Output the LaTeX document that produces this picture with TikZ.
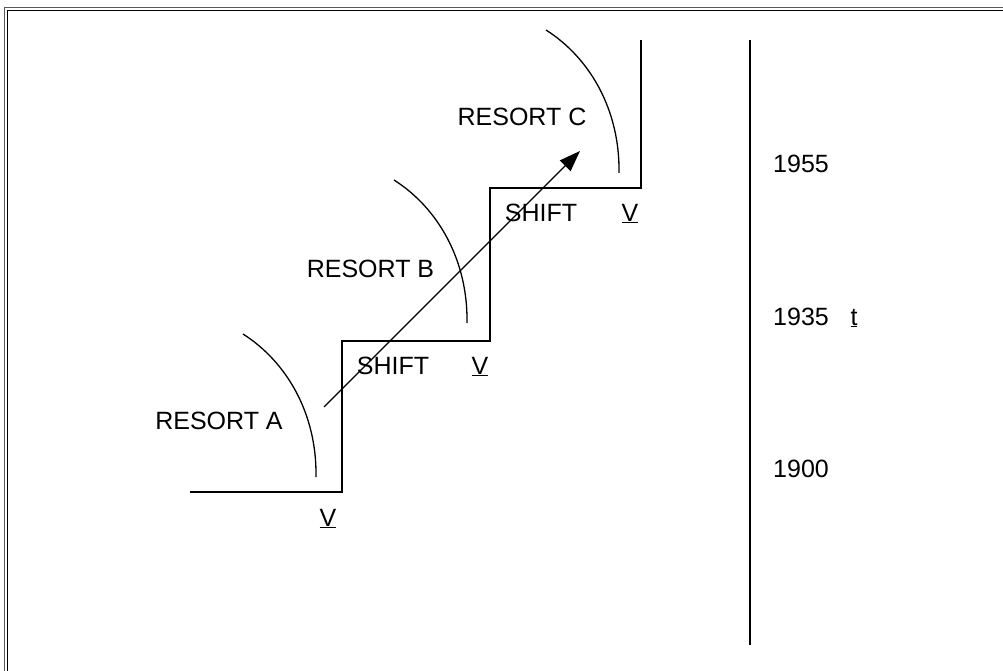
\documentclass[tikz,border=0pt]{standalone}
\usepackage{fontspec}
\setmainfont{Liberation Sans}
\usetikzlibrary{arrows.meta,calc}
\begin{document}
\begin{tikzpicture}[x=1pt,y=-1pt,
  lbl/.style={inner sep=0pt,anchor=base,font=\fontsize{25}{30}\selectfont},
  stair/.style={line width=1.8pt,black},
  resortarc/.style={line width=1.3pt,black},
  trend/.style={line width=1.3pt,black,-{Triangle[length=21pt,width=15pt]}}]
\useasboundingbox (0,0) rectangle (1003,671);
% frame
\draw[line width=1.6pt,black!65] (4.5,700) -- (4.5,7.5) -- (1010,7.5);
\draw[line width=1.2pt,black] (7.7,700) -- (7.7,10.8) -- (1010,10.8);
% staircase
\coordinate (s0) at (190,492);
\coordinate (s1) at (342,492);
\coordinate (s2) at (342,341);
\coordinate (s3) at (490,341);
\coordinate (s4) at (490,188);
\coordinate (s5) at (641,188);
\coordinate (s6) at (641,40);
\draw[stair] (s0) -- (s1) -- (s2) -- (s3) -- (s4) -- (s5) -- (s6);
% resort arcs
\coordinate (a0) at (243,334);
\coordinate (b0) at (394,180);
\coordinate (c0) at (546,30);
\foreach \p in {a0,b0,c0}{
  \draw[resortarc] (\p) .. controls ($(\p)+(44,28)$) and ($(\p)+(74,80)$) .. ($(\p)+(73,143)$);
}
% trend arrow
\coordinate (tail) at (324,407);
\coordinate (tip) at (580,151);
\draw[trend] (tail) -- (tip);
% time axis
\coordinate (t0) at (750,40);
\coordinate (t1) at (750,645);
\draw[line width=1.5pt] (t0) -- (t1);
% labels
\node[lbl] (ra) at (219,429) {RESORT A};
\node[lbl] (rb) at (370.5,277) {RESORT B};
\node[lbl] (rc) at (522,126) {RESORT C};
\node[lbl] (sh1) at (393,374) {SHIFT};
\node[lbl] (v1) at (480,374) {\underline{V}};
\node[lbl] (sh2) at (541,221) {SHIFT};
\node[lbl] (v2) at (630,221) {\underline{V}};
\node[lbl] (v0) at (328,526) {\underline{V}};
\node[lbl] (y55) at (801,173) {1955};
\node[lbl] (y35) at (801,325) {1935};
\node[lbl] (tt) at (854,325) {\underline{t}};
\node[lbl] (y00) at (801,477) {1900};
\end{tikzpicture}
\end{document}
